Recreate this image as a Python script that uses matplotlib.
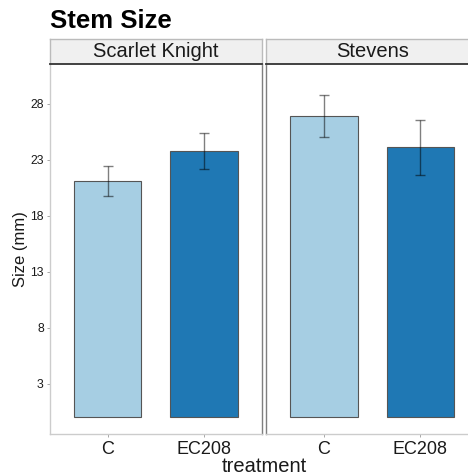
import matplotlib
matplotlib.use("Agg")
import matplotlib.pyplot as plt

plt.rcParams['font.family'] = ['Liberation Sans', 'DejaVu Sans']

varieties = ["Scarlet Knight", "Stevens"]
treatments = ["C", "EC208"]
means = {"Scarlet Knight": [21.1, 23.8], "Stevens": [26.9, 24.1]}
errors = {"Scarlet Knight": [1.35, 1.63], "Stevens": [1.9, 2.45]}
colors = ["#A6CEE3", "#1F78B4"]
yticks = [3, 8, 13, 18, 23, 28]

W, H = 468, 475
fig = plt.figure(figsize=(W / 100, H / 100), dpi=100)

panel_left = [50, 266.3]
panel_w = 211.7
top_px, bot_px = 64, 434.3
strip_top = 39

for i, var in enumerate(varieties):
    x0 = panel_left[i]
    ax = fig.add_axes([x0 / W, 1 - bot_px / H, panel_w / W, (bot_px - top_px) / H])
    xs = [1, 2]
    ax.bar(xs, means[var], width=0.7, color=colors, edgecolor="#555555", linewidth=0.8, zorder=2)
    ax.errorbar(xs, means[var], yerr=errors[var], fmt="none", ecolor="black", alpha=0.5,
                elinewidth=1.0, capsize=3.7, capthick=1.0, zorder=3)
    ax.set_xlim(0.4, 2.6)
    ax.set_ylim(-1.5, 31.55)
    ax.set_xticks(xs)
    ax.set_xticklabels(treatments, fontsize=13, color="#1a1a1a")
    ax.tick_params(axis="x", length=2.5, width=0.6, color="#999999", pad=2)
    for s in ax.spines.values():
        s.set_linewidth(1.0)
    ax.spines["top"].set_visible(False)
    ax.spines["bottom"].set_color("#cccccc")
    if i == 0:
        ax.set_yticks(yticks)
        ax.set_yticklabels([str(t) for t in yticks], fontsize=8.8, color="#1a1a1a")
        ax.tick_params(axis="y", length=2.5, width=0.6, color="#999999", pad=2)
        ax.spines["left"].set_color("#cccccc")
        ax.spines["right"].set_color("#7f7f7f")
        ax.set_ylabel("Size (mm)", fontsize=12, color="#1a1a1a", labelpad=1.5)
    else:
        ax.set_yticks([])
        ax.spines["left"].set_color("#7f7f7f")
        ax.spines["right"].set_visible(False)
    # strip
    sax = fig.add_axes([x0 / W, 1 - top_px / H, panel_w / W, (top_px - strip_top) / H])
    sax.set_facecolor("#f0f0f0")
    sax.set_xticks([])
    sax.set_yticks([])
    for s in sax.spines.values():
        s.set_color("#bbbbbb")
        s.set_linewidth(1.0)
    sax.spines["bottom"].set_color("#333333")
    sax.spines["bottom"].set_linewidth(1.3)
    if i == 1:
        sax.spines["right"].set_visible(False)
    sax.text(0.5, 0.5, var, ha="center", va="center", fontsize=14.5, color="#1a1a1a",
             transform=sax.transAxes)

fig.text(50 / W, 1 - 21 / H, "Stem Size", fontsize=18.5, fontweight="bold", ha="left", va="center")
fig.text(264 / W, 1 - 466 / H, "treatment", fontsize=14.5, ha="center", va="center", color="#1a1a1a")

fig.savefig("out.png", dpi=100)
